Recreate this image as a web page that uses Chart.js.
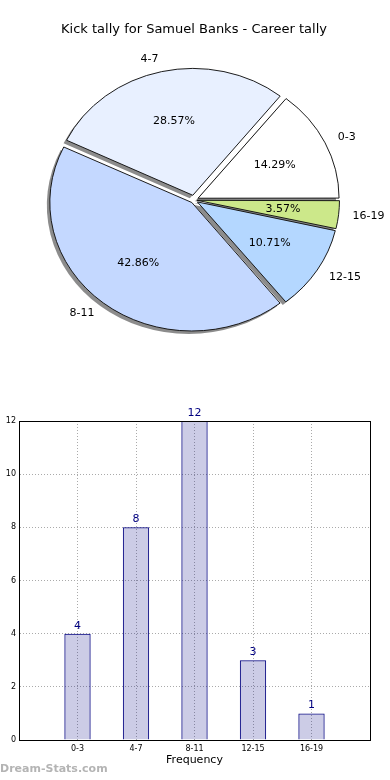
<!DOCTYPE html>
<html>
<head>
<meta charset="utf-8">
<script src="https://cdn.jsdelivr.net/npm/chart.js@4/dist/chart.umd.min.js"></script>
<style>
body { margin: 0; background: #fff; width: 390px; height: 780px; overflow: hidden; position: relative; }
#pie { position: absolute; left: 0; top: 0; width: 390px; height: 400px; }
#bars { position: absolute; left: -10px; top: 390px; width: 400px; height: 390px; }
#marca { position: absolute; left: 0; top: 762px; font: bold 11px 'DejaVu Sans', sans-serif; color: #b4b4b4; }
</style>
</head>
<body>
<canvas id="pie" width="390" height="400"></canvas>
<canvas id="bars" width="400" height="390"></canvas>
<div id="marca">Dream-Stats.com</div>
<script>
// --- datos ---
const titulo = 'Kick tally for Samuel Banks - Career tally';
const rangos = ['0-3', '4-7', '8-11', '12-15', '16-19'];
const tally = [4, 8, 12, 3, 1];
const coloresPie = ['#ffffff', '#e8f0ff', '#c4d8ff', '#b4d7ff', '#cce88a'];
const yTicks = [0, 2, 4, 6, 8, 10, 12];

const total = tally.reduce((a, b) => a + b, 0);
const porcentajes = tally.map(v => (v / total * 100).toFixed(2) + '%');

Chart.defaults.font.family = "'DejaVu Sans', sans-serif";
Chart.defaults.color = '#000';

// matplotlib dibuja en sentido antihorario desde el este -> invertimos el orden
const ordenPie = [4, 3, 2, 1, 0];

const ESCALA_Y = 0.905;  // el pie original es una elipse
const EXPLODE = 5.5;     // px de separacion de cada porcion
const RADIO = 140;

const pieElipse = {
    id: 'pieElipse',
    beforeDatasetsDraw(chart) {
        const ctx = chart.ctx;
        const arcs = chart.getDatasetMeta(0).data;
        const cx = arcs[0].x, cy = arcs[0].y;
        ctx.save();
        ctx.translate(cx, cy);
        ctx.scale(1, ESCALA_Y);
        ctx.translate(-cx, -cy);
        // sombras debajo de todas las porciones
        ctx.save();
        ctx.translate(-3, 3 / ESCALA_Y);
        arcs.forEach(el => {
            const op = el.options;
            el.options = Object.assign({}, op, { backgroundColor: 'rgba(0,0,0,0.45)', borderWidth: 0 });
            el.draw(ctx);
            el.options = op;
        });
        ctx.restore();
    },
    afterDatasetsDraw(chart) {
        const ctx = chart.ctx;
        ctx.restore();
        const arcs = chart.getDatasetMeta(0).data;
        ctx.save();
        ctx.font = "11px 'DejaVu Sans'";
        ctx.fillStyle = '#000';
        ctx.textBaseline = 'middle';
        arcs.forEach((el, k) => {
            const i = ordenPie[k];
            const mid = (el.startAngle + el.endAngle) / 2;
            const dx = Math.cos(mid), dy = Math.sin(mid);
            const bx = el.x + dx * EXPLODE, by = el.y + dy * EXPLODE * ESCALA_Y;
            ctx.textAlign = dx > 0 ? 'left' : 'right';
            ctx.fillText(rangos[i], bx + dx * 1.1 * RADIO, by + dy * 1.1 * RADIO * ESCALA_Y);
            ctx.textAlign = 'center';
            ctx.fillText(porcentajes[i], bx + dx * 0.6 * RADIO, by + dy * 0.6 * RADIO * ESCALA_Y);
        });
        ctx.font = "13px 'DejaVu Sans'";
        ctx.textAlign = 'center';
        ctx.fillText(titulo, 194, 30);
        ctx.restore();
    }
};

new Chart(document.getElementById('pie'), {
    type: 'pie',
    data: {
        labels: ordenPie.map(i => rangos[i]),
        datasets: [{
            data: ordenPie.map(i => tally[i]),
            backgroundColor: ordenPie.map(i => coloresPie[i]),
            borderColor: '#111',
            borderWidth: 1,
            borderJoinStyle: 'miter',
            radius: RADIO,
            rotation: 90,
            clip: false,
            offset: c => {
                const circ = (c.raw / total) * 2 * Math.PI;
                return 4 * EXPLODE / (2 - Math.sin(Math.min(Math.PI, circ)));
            }
        }]
    },
    options: {
        responsive: false,
        animation: false,
        layout: { padding: { right: 2 } },
        plugins: { legend: { display: false }, tooltip: { enabled: false } }
    },
    plugins: [pieElipse]
});

// --- barras ---
const etiquetasBarras = {
    id: 'etiquetasBarras',
    afterDatasetsDraw(chart) {
        const ctx = chart.ctx;
        ctx.save();
        ctx.font = "11px 'DejaVu Sans'";
        ctx.fillStyle = '#000080';
        ctx.textAlign = 'center';
        ctx.textBaseline = 'alphabetic';
        chart.getDatasetMeta(0).data.forEach((el, i) => {
            ctx.fillText(String(tally[i]), el.x, el.y - 5);
        });
        ctx.restore();
    },
    afterDraw(chart) {
        const { left, top, right, bottom } = chart.chartArea;
        const ctx = chart.ctx;
        ctx.save();
        ctx.strokeStyle = '#000';
        ctx.lineWidth = 1;
        ctx.strokeRect(Math.round(left) + 0.5, Math.round(top) + 0.5, Math.round(right - left), Math.round(bottom - top));
        ctx.restore();
    }
};

const gridPunteado = { color: '#aaa', lineWidth: 1, drawTicks: false, offset: false };

new Chart(document.getElementById('bars'), {
    type: 'bar',
    data: {
        datasets: [{
            data: rangos.map((r, i) => ({ x: i + 1, y: tally[i] })),
            backgroundColor: 'rgba(0,0,128,0.2)',
            borderColor: '#000080',
            borderWidth: 1,
            categoryPercentage: 1,
            barPercentage: 0.45
        }]
    },
    options: {
        responsive: false,
        animation: false,
        layout: { padding: { top: 31, right: 20, left: 0, bottom: 0 } },
        plugins: { legend: { display: false }, tooltip: { enabled: false } },
        scales: {
            x: {
                type: 'linear',
                offset: false,
                min: 0,
                max: 6,
                afterBuildTicks: ax => { ax.ticks = rangos.map((r, i) => ({ value: i + 1 })); },
                ticks: { callback: v => rangos[v - 1], font: { size: 8 }, padding: 4, maxRotation: 0, autoSkip: false },
                grid: gridPunteado,
                border: { display: true, color: '#000', dash: [1, 2] },
                title: { display: true, text: 'Frequency', font: { size: 11 }, padding: { top: 0, bottom: 13 } },
                afterFit: s => { s.height = 40; }
            },
            y: {
                min: 0,
                max: 12,
                afterBuildTicks: ax => { ax.ticks = yTicks.map(v => ({ value: v })); },
                ticks: { font: { size: 8 }, padding: 3 },
                grid: gridPunteado,
                border: { display: true, color: '#000', dash: [1, 2] },
                title: { display: true, text: 'Number of Games', font: { size: 11 }, padding: 0 },
                afterFit: s => { s.width = 29; }
            }
        }
    },
    plugins: [etiquetasBarras]
});
</script>
</body>
</html>
